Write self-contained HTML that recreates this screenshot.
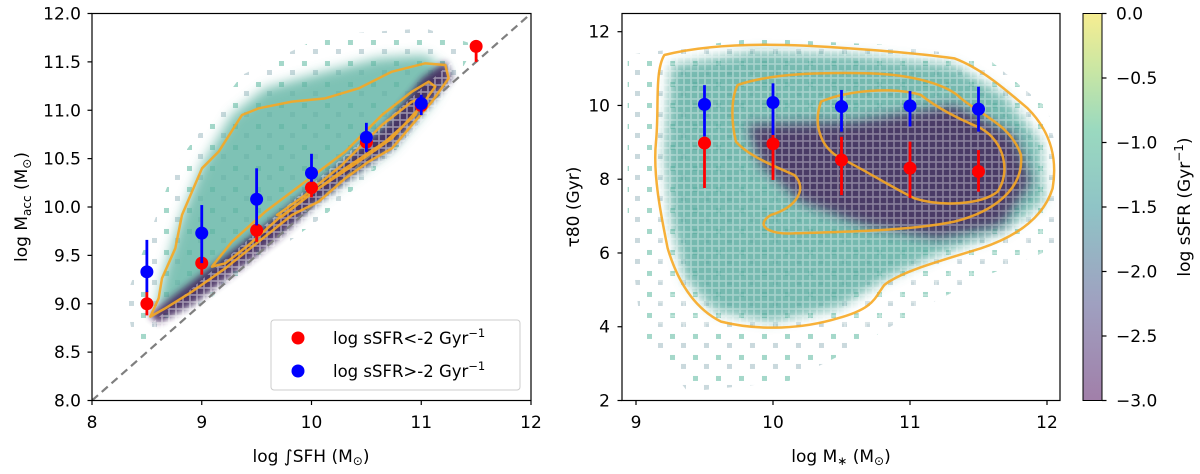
<!DOCTYPE html>
<html><head><meta charset="utf-8"><style>
html,body{margin:0;padding:0;background:#fff;}
svg{display:block;font-family:"DejaVu Sans","Liberation Sans",sans-serif;}
</style></head><body>
<svg id="fig" width="1200" height="474" viewBox="0 0 1200 474" xmlns="http://www.w3.org/2000/svg">
<defs>
  <filter id="blurBig" x="-30%" y="-30%" width="160%" height="160%"><feGaussianBlur stdDeviation="18"/></filter>
  <filter id="blurMid" x="-30%" y="-30%" width="160%" height="160%"><feGaussianBlur stdDeviation="10"/></filter>
  <pattern id="sqSparse" width="23" height="21" patternUnits="userSpaceOnUse" patternTransform="scale(3)"><rect x="3" y="4" width="5" height="5" fill="#7fc8b4" opacity="0.7"/><rect x="14" y="13" width="5" height="5" fill="#9fb9c0" opacity="0.55"/></pattern>
  <pattern id="gridTex" width="7" height="7" patternUnits="userSpaceOnUse" patternTransform="scale(3)"><rect x="0" y="0" width="7" height="7" fill="none" stroke="#fff" stroke-width="1.6"/></pattern>
  <linearGradient id="viridis" x1="0" y1="1" x2="0" y2="0">
    <stop offset="0" stop-color="#a17fa9"/><stop offset="0.25" stop-color="#9fa0c0"/>
    <stop offset="0.5" stop-color="#8fc4c6"/><stop offset="0.7" stop-color="#9ad9bf"/>
    <stop offset="0.85" stop-color="#c8e6a4"/><stop offset="1" stop-color="#f6ed91"/>
  </linearGradient>
  <clipPath id="clipL"><rect x="92" y="13.5" width="439" height="387"/></clipPath>
  <clipPath id="clipR"><rect x="622" y="13.5" width="438" height="387"/></clipPath>
</defs>

<!-- LEFT PANEL background clouds -->
<g clip-path="url(#clipL)">
  <g transform="translate(92,15) scale(0.3333)">
    <path d="M100,850 L250,450 L450,180 L700,60 L1000,40 L1150,90 L1100,180 L900,420 L700,600 L400,820 L200,950 L130,1000 Z" fill="url(#sqSparse)"/>
    <path d="M190,890 L220,760 L270,600 L330,450 L420,300 L520,220 L700,170 L860,130 L1000,120 L1070,170 L1020,260 L900,400 L760,500 L600,610 L420,750 L280,860 Z" fill="#5fb3a3" opacity="0.8" filter="url(#blurBig)"/>
    <path d="M170,900 L300,800 L480,660 L680,500 L880,330 L990,190 L1060,140 L1080,190 L1000,280 L900,400 L800,470 L680,560 L560,670 L420,780 L300,870 L200,925 Z" fill="#3d1d57" opacity="0.85" filter="url(#blurMid)"/>
    <path d="M150,950 L300,820 L600,560 L900,300 L1080,140 L1080,220 L900,420 L600,650 L350,860 L180,980 Z" fill="url(#gridTex)" opacity="0.45"/>
  </g>
</g>
<!-- RIGHT PANEL background clouds -->
<g clip-path="url(#clipR)">
  <g transform="translate(621,15) scale(0.3333)">
    <path d="M20,120 L400,70 L800,90 L1100,130 L1280,280 L1320,480 L1300,700 L1100,780 L900,880 L700,1000 L500,1100 L200,1130 L60,950 L20,600 Z" fill="url(#sqSparse)"/>
    <path d="M150,150 L400,110 L700,120 L1000,150 L1150,240 L1260,380 L1270,560 L1150,650 L950,720 L800,790 L650,880 L450,920 L280,890 L190,790 L150,620 L130,420 Z" fill="#52a89c" opacity="0.8" filter="url(#blurBig)"/>
    <path d="M380,330 L700,320 L1000,270 L1180,360 L1230,500 L1140,630 L950,670 L730,630 L540,560 L420,450 Z" fill="#3f1a55" opacity="0.8" filter="url(#blurBig)"/>
    <path d="M100,100 L1300,100 L1300,950 L100,950 Z" fill="url(#gridTex)" opacity="0.35"/>
  </g>
</g>

<!-- dashed 1:1 line -->
<line x1="92" y1="400.5" x2="531" y2="13.5" stroke="#7f7f7f" stroke-width="2.2" stroke-dasharray="8,5" clip-path="url(#clipL)"/>

<!-- contours -->
<g fill="none" stroke="#f7a823" stroke-width="7.5" stroke-linejoin="round" opacity="0.9" transform="translate(92,15) scale(0.3333)">
  <path d="M175,905 L200,850 L210,790 L250,700 L270,600 L330,460 L380,410 L450,300 L500,280 L600,260 L700,250 L800,220 L900,170 L1000,145 L1060,150 L1070,190 L1020,260 L960,330 L900,400 L830,440 L760,490 L680,560 L600,600 L500,680 L400,760 L300,830 L220,880 Z"/>
  <path d="M360,755 L420,680 L520,590 L640,500 L760,410 L870,300 L960,230 L1010,200 L1030,215 L990,270 L900,370 L800,440 L680,520 L560,610 L470,690 L400,745 Z"/>
  <path d="M555,600 L640,540 L750,450 L870,330 L960,260 L990,250 L970,300 L880,380 L760,460 L640,550 L570,605 Z"/>
</g>
<g fill="none" stroke="#f7a823" stroke-width="7.5" stroke-linejoin="round" opacity="0.9" transform="translate(621,15) scale(0.3333)">
  <path d="M130,120 C250,90 400,85 550,92 C700,100 850,110 1000,130 C1080,160 1150,220 1220,280 C1290,350 1310,430 1295,520 C1270,600 1200,660 1080,700 C950,740 840,770 790,810 C760,850 760,880 650,910 C550,940 420,950 300,920 C220,880 170,800 140,700 C120,600 95,480 105,380 C115,280 100,170 130,120 Z"/>
  <path d="M350,210 C450,175 600,172 750,175 C880,180 980,210 1020,250 C1080,300 1170,330 1200,420 C1210,520 1120,590 1000,620 C880,645 700,650 520,655 C440,660 400,630 450,600 C530,575 560,520 520,480 C450,450 380,420 345,380 C330,320 330,250 350,210 Z"/>
  <path d="M600,260 C680,225 820,215 900,240 C950,280 1010,310 1080,340 C1150,380 1170,470 1130,530 C1080,570 960,575 880,550 C800,510 740,470 660,430 C600,400 575,330 600,260 Z"/>
</g>

<!-- frames -->
<rect x="92" y="13.5" width="439" height="387" fill="none" stroke="#000" stroke-width="1.2"/>
<rect x="622" y="13.5" width="438" height="387" fill="none" stroke="#000" stroke-width="1.2"/>

<g id="leftAxes" font-size="17" fill="#000"></g>
<g id="rightAxes" font-size="17" fill="#000"></g>
<g id="leftMarks"></g>
<g id="rightMarks"></g>

<!-- legend -->
<g>
  <rect x="271" y="320" width="249" height="70" rx="3" fill="#fff" fill-opacity="0.85" stroke="#ccc" stroke-width="1"/>
  <circle cx="298" cy="338" r="6.5" fill="#ff0000"/>
  <text x="333" y="344" font-size="16.5">log sSFR&lt;-2 Gyr<tspan dy="-7" font-size="11.5">−1</tspan></text>
  <circle cx="298" cy="371" r="6.5" fill="#0000ff"/>
  <text x="333" y="377" font-size="16.5">log sSFR&gt;-2 Gyr<tspan dy="-7" font-size="11.5">−1</tspan></text>
</g>

<!-- axis titles -->
<text x="311" y="462" font-size="17" text-anchor="middle">log ∫SFH (M<tspan dy="3" font-size="12">⊙</tspan><tspan dy="-3">)</tspan></text>
<text transform="translate(27,207) rotate(-90)" font-size="17" text-anchor="middle">log M<tspan dy="4" font-size="12">acc</tspan><tspan dy="-4"> (M</tspan><tspan dy="4" font-size="12">⊙</tspan><tspan dy="-4">)</tspan></text>
<text x="841" y="462" font-size="17" text-anchor="middle">log M<tspan dy="3" font-size="12">∗</tspan><tspan dy="-3"> (M</tspan><tspan dy="3" font-size="12">⊙</tspan><tspan dy="-3">)</tspan></text>
<text transform="translate(579,207) rotate(-90)" font-size="17" text-anchor="middle">τ80 (Gyr)</text>

<!-- colorbar -->
<rect x="1083" y="13.5" width="19" height="387" fill="url(#viridis)" stroke="#000" stroke-width="1"/>
<g id="cbar" font-size="17"></g>
<text transform="translate(1190,207) rotate(-90)" font-size="17" text-anchor="middle">log sSFR (Gyr<tspan dy="-7" font-size="12">−1</tspan><tspan dy="7">)</tspan></text>

<script>
// ---- Left panel data ----
const leftXTicks = [8, 9, 10, 11, 12];
const leftYTicks = ["8.0","8.5","9.0","9.5","10.0","10.5","11.0","11.5","12.0"];
const leftRedX = [8.5, 9.0, 9.5, 10.0, 10.5, 11.0, 11.5];
const leftRedY = [9.00, 9.42, 9.76, 10.20, 10.67, 11.05, 11.66];
const leftRedLo = [8.88, 9.30, 9.64, 10.10, 10.58, 10.98, 11.50];
const leftRedHi = [9.13, 9.47, 9.84, 10.28, 10.75, 11.12, 11.70];
const leftBlueX = [8.5, 9.0, 9.5, 10.0, 10.5, 11.0];
const leftBlueY = [9.33, 9.73, 10.08, 10.35, 10.72, 11.07];
const leftBlueLo = [9.12, 9.42, 9.81, 10.26, 10.57, 10.95];
const leftBlueHi = [9.66, 10.02, 10.40, 10.55, 10.87, 11.16];
// ---- Right panel data ----
const rightXTicks = [9, 10, 11, 12];
const rightYTicks = [2, 4, 6, 8, 10, 12];
const rightBlueX = [9.5, 10.0, 10.5, 11.0, 11.5];
const rightBlueY = [10.03, 10.08, 9.97, 9.99, 9.90];
const rightBlueLo = [9.16, 9.20, 9.29, 9.43, 9.29];
const rightBlueHi = [10.55, 10.60, 10.42, 10.39, 10.51];
const rightRedX = [9.5, 10.0, 10.5, 11.0, 11.5];
const rightRedY = [8.98, 8.96, 8.52, 8.30, 8.21];
const rightRedLo = [7.76, 7.98, 7.57, 7.49, 7.66];
const rightRedHi = [9.15, 9.20, 9.15, 9.02, 8.79];
const cbarTicks = ["0.0","−0.5","−1.0","−1.5","−2.0","−2.5","−3.0"];

const NS = "http://www.w3.org/2000/svg";
const lx = v => 92 + (v - 8) * 439 / 4;
const ly = v => 400.5 - (v - 8) * 387 / 4;
const rx = v => 636 + (v - 9) * 137;
const ry = v => 400.5 - (v - 2) * 36.88;
const cy = v => 13.5 + (-v) * 387 / 3;

function mk(tag, attrs, parent) {
  const e = document.createElementNS(NS, tag);
  for (const k in attrs) e.setAttribute(k, attrs[k]);
  parent.appendChild(e);
  return e;
}

const la = document.getElementById('leftAxes');
leftXTicks.forEach(t => {
  const l = mk('line', {x1: lx(t), x2: lx(t), y1: 400.5, y2: 405, stroke: '#000', 'stroke-width': 1.2}, la);
  
  
  const tx = mk('text', {x: lx(t), y: 428, 'text-anchor': 'middle'}, la);
  tx.textContent = t;
  
  
});
leftYTicks.forEach(s => {
  const t = parseFloat(s);
  const l = mk('line', {x1: 87.5, x2: 92, y1: ly(t), y2: ly(t), stroke: '#000', 'stroke-width': 1.2}, la);
  
  
  const tx = mk('text', {x: 81, y: ly(t) + 6, 'text-anchor': 'end'}, la);
  tx.textContent = s;
  
  
});
const ra = document.getElementById('rightAxes');
rightXTicks.forEach(t => {
  const l = mk('line', {x1: rx(t), x2: rx(t), y1: 400.5, y2: 405, stroke: '#000', 'stroke-width': 1.2}, ra);
  
  
  const tx = mk('text', {x: rx(t), y: 428, 'text-anchor': 'middle'}, ra);
  tx.textContent = t;
  
  
});
rightYTicks.forEach(t => {
  const l = mk('line', {x1: 617.5, x2: 622, y1: ry(t), y2: ry(t), stroke: '#000', 'stroke-width': 1.2}, ra);
  
  
  const tx = mk('text', {x: 610, y: ry(t) + 6, 'text-anchor': 'end'}, ra);
  tx.textContent = t;
  
  
});
const cb = document.getElementById('cbar');
cbarTicks.forEach(s => {
  const v = parseFloat(s.replace('−', '-'));
  const l = mk('line', {x1: 1102, x2: 1106.5, y1: cy(v), y2: cy(v), stroke: '#000', 'stroke-width': 1.2}, cb);
  
  
  const tx = mk('text', {x: 1116, y: cy(v) + 6}, cb);
  tx.textContent = s;
  
  
});

function series(g, X, Y, Lo, Hi, fx, fy, color, nm) {
  X.forEach((x, i) => {
    const e = mk('line', {x1: fx(x), x2: fx(x), y1: fy(Lo[i]), y2: fy(Hi[i]), stroke: color, 'stroke-width': 2.8}, g);
    
    
    const c = mk('circle', {cx: fx(x), cy: fy(Y[i]), r: 6.5, fill: color}, g);
    
    
  });
}
const lm = document.getElementById('leftMarks');
series(lm, leftRedX, leftRedY, leftRedLo, leftRedHi, lx, ly, '#ff0000', 'left-quenched');
series(lm, leftBlueX, leftBlueY, leftBlueLo, leftBlueHi, lx, ly, '#0000ff', 'left-starforming');
const rm = document.getElementById('rightMarks');
series(rm, rightBlueX, rightBlueY, rightBlueLo, rightBlueHi, rx, ry, '#0000ff', 'right-starforming');
series(rm, rightRedX, rightRedY, rightRedLo, rightRedHi, rx, ry, '#ff0000', 'right-quenched');
</script>
</svg>
</body></html>
